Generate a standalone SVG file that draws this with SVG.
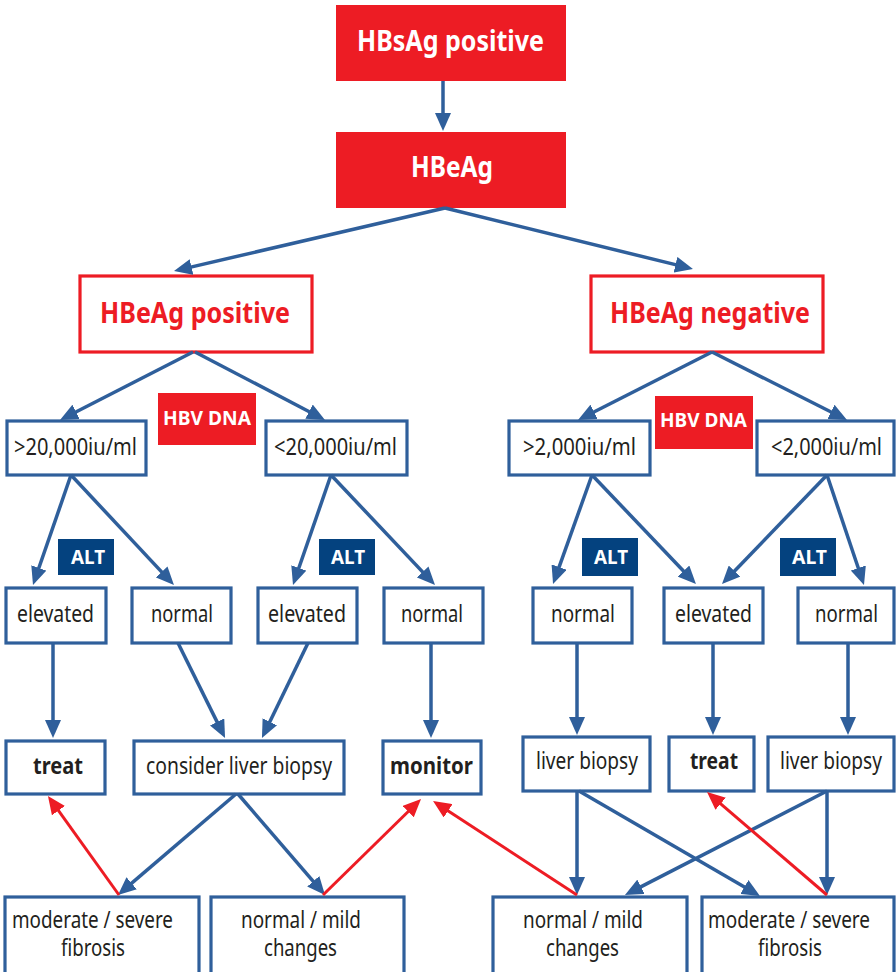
<svg xmlns="http://www.w3.org/2000/svg" width="896" height="972" viewBox="0 0 896 972">
<style>
.box{fill:#fff;stroke:#2F5F9B;stroke-width:3.2}
.rbox{fill:#fff;stroke:#ED1C24;stroke-width:3.2}
.red{fill:#ED1C24}
.alt{fill:#04427F}
.t{font-family:"Noto Sans","Open Sans","DejaVu Sans",sans-serif;font-size:23px;fill:#231F20}
.tb{font-family:"Noto Sans","Open Sans","DejaVu Sans",sans-serif;font-size:24px;font-weight:bold;fill:#231F20}
.hw{font-family:"Noto Sans","Open Sans","DejaVu Sans",sans-serif;font-size:28px;font-weight:bold;fill:#fff}
.hr{font-family:"Noto Sans","Open Sans","DejaVu Sans",sans-serif;font-size:28px;font-weight:bold;fill:#ED1C24}
.lw{font-family:"Noto Sans","Open Sans","DejaVu Sans",sans-serif;font-size:20px;font-weight:bold;fill:#fff}
.cb{stroke:#2F5F9B;stroke-width:3.5;fill:none;marker-end:url(#ab)}
.cr{stroke:#ED1C24;stroke-width:3;fill:none;marker-end:url(#ar)}
</style>
<defs>
<marker id="ab" viewBox="0 0 18 16" refX="3" refY="8" markerWidth="18" markerHeight="16" markerUnits="userSpaceOnUse" orient="auto"><path d="M0,0 L18,8 L0,16 z" fill="#2F5F9B"/></marker>
<marker id="ar" viewBox="0 0 18 16" refX="3" refY="8" markerWidth="18" markerHeight="16" markerUnits="userSpaceOnUse" orient="auto"><path d="M0,0 L18,8 L0,16 z" fill="#ED1C24"/></marker>
</defs>

<g id="hbsag"><rect class="red" x="336" y="5" width="230" height="76"/><text class="hw" x="357" y="51" textLength="187" lengthAdjust="spacingAndGlyphs">HBsAg positive</text></g>
<g id="hbeag"><rect class="red" x="336" y="132" width="230" height="76"/><text class="hw" x="411" y="177" textLength="82" lengthAdjust="spacingAndGlyphs">HBeAg</text></g>
<g id="hbeag-pos"><rect class="rbox" x="80" y="276" width="232" height="76"/><text class="hr" x="100" y="323" textLength="190" lengthAdjust="spacingAndGlyphs">HBeAg positive</text></g>
<g id="hbeag-neg"><rect class="rbox" x="591" y="276" width="232" height="76"/><text class="hr" x="610" y="323" textLength="200" lengthAdjust="spacingAndGlyphs">HBeAg negative</text></g>

<g id="dna1"><rect class="red" x="158" y="393" width="98" height="52"/><text class="lw" x="163" y="425" textLength="88" lengthAdjust="spacingAndGlyphs">HBV DNA</text></g>
<g id="dna2"><rect class="red" x="655" y="396" width="98" height="53"/><text class="lw" x="660" y="427" textLength="87" lengthAdjust="spacingAndGlyphs">HBV DNA</text></g>

<g id="gt20k"><rect class="box" x="7" y="421" width="139" height="54"/><text class="t" transform="translate(14,455) scale(0.86,1)" textLength="143" lengthAdjust="spacingAndGlyphs">&gt;20,000iu/ml</text></g>
<g id="lt20k"><rect class="box" x="266" y="421" width="141" height="54"/><text class="t" transform="translate(274,455) scale(0.86,1)" textLength="143" lengthAdjust="spacingAndGlyphs">&lt;20,000iu/ml</text></g>
<g id="gt2k"><rect class="box" x="509" y="421" width="141" height="54"/><text class="t" transform="translate(523,455) scale(0.86,1)" textLength="131.4" lengthAdjust="spacingAndGlyphs">&gt;2,000iu/ml</text></g>
<g id="lt2k"><rect class="box" x="757" y="421" width="137" height="54"/><text class="t" transform="translate(771,455) scale(0.86,1)" textLength="129" lengthAdjust="spacingAndGlyphs">&lt;2,000iu/ml</text></g>

<g id="alt1"><rect class="alt" x="58" y="539" width="56" height="36"/><text class="lw" x="71" y="564" textLength="34" lengthAdjust="spacingAndGlyphs">ALT</text></g>
<g id="alt2"><rect class="alt" x="319" y="539" width="56" height="36"/><text class="lw" x="331" y="564" textLength="34" lengthAdjust="spacingAndGlyphs">ALT</text></g>
<g id="alt3"><rect class="alt" x="582" y="538" width="56" height="38"/><text class="lw" x="594" y="564" textLength="34" lengthAdjust="spacingAndGlyphs">ALT</text></g>
<g id="alt4"><rect class="alt" x="780" y="538" width="56" height="38"/><text class="lw" x="792" y="564" textLength="35" lengthAdjust="spacingAndGlyphs">ALT</text></g>

<g id="elev1"><rect class="box" x="6" y="588" width="100" height="55"/><text class="t" transform="translate(17,622) scale(0.86,1)" textLength="89.5" lengthAdjust="spacingAndGlyphs">elevated</text></g>
<g id="norm1"><rect class="box" x="132" y="588" width="99" height="55"/><text class="t" transform="translate(151,622) scale(0.86,1)" textLength="72.1" lengthAdjust="spacingAndGlyphs">normal</text></g>
<g id="elev2"><rect class="box" x="258" y="588" width="99" height="55"/><text class="t" transform="translate(268,622) scale(0.86,1)" textLength="90.7" lengthAdjust="spacingAndGlyphs">elevated</text></g>
<g id="norm2"><rect class="box" x="384" y="588" width="99" height="55"/><text class="t" transform="translate(401,622) scale(0.86,1)" textLength="72.1" lengthAdjust="spacingAndGlyphs">normal</text></g>
<g id="norm3"><rect class="box" x="533" y="588" width="99" height="55"/><text class="t" transform="translate(551,622) scale(0.86,1)" textLength="74.4" lengthAdjust="spacingAndGlyphs">normal</text></g>
<g id="elev3"><rect class="box" x="664" y="588" width="99" height="55"/><text class="t" transform="translate(675,622) scale(0.86,1)" textLength="89.5" lengthAdjust="spacingAndGlyphs">elevated</text></g>
<g id="norm4"><rect class="box" x="798" y="588" width="96" height="55"/><text class="t" transform="translate(815,622) scale(0.86,1)" textLength="73.3" lengthAdjust="spacingAndGlyphs">normal</text></g>

<g id="treat1"><rect class="box" x="6" y="741" width="99" height="53"/><text class="tb" transform="translate(33,774) scale(0.85,1)" textLength="58.8" lengthAdjust="spacingAndGlyphs">treat</text></g>
<g id="consider"><rect class="box" x="134" y="741" width="210" height="53"/><text class="t" transform="translate(146,774) scale(0.86,1)" textLength="216.3" lengthAdjust="spacingAndGlyphs">consider liver biopsy</text></g>
<g id="monitor"><rect class="box" x="383" y="741" width="98" height="53"/><text class="tb" transform="translate(390,774) scale(0.85,1)" textLength="97.6" lengthAdjust="spacingAndGlyphs">monitor</text></g>
<g id="biopsy1"><rect class="box" x="523" y="737" width="127" height="54"/><text class="t" transform="translate(536,769) scale(0.86,1)" textLength="118.6" lengthAdjust="spacingAndGlyphs">liver biopsy</text></g>
<g id="treat2"><rect class="box" x="669" y="737" width="85" height="54"/><text class="tb" transform="translate(690,769) scale(0.85,1)" textLength="56.5" lengthAdjust="spacingAndGlyphs">treat</text></g>
<g id="biopsy2"><rect class="box" x="768" y="737" width="126" height="54"/><text class="t" transform="translate(780,769) scale(0.86,1)" textLength="118.6" lengthAdjust="spacingAndGlyphs">liver biopsy</text></g>

<g id="fib1"><rect class="box" x="5" y="897" width="194" height="85"/><text class="t" transform="translate(12,928) scale(0.86,1)" textLength="187.2" lengthAdjust="spacingAndGlyphs">moderate / severe</text><text class="t" transform="translate(61,956) scale(0.86,1)" textLength="74.4" lengthAdjust="spacingAndGlyphs">fibrosis</text></g>
<g id="mild1"><rect class="box" x="211" y="897" width="193" height="85"/><text class="t" transform="translate(241,928) scale(0.86,1)" textLength="139.5" lengthAdjust="spacingAndGlyphs">normal / mild</text><text class="t" transform="translate(264,956) scale(0.86,1)" textLength="84.9" lengthAdjust="spacingAndGlyphs">changes</text></g>
<g id="mild2"><rect class="box" x="493" y="897" width="194" height="85"/><text class="t" transform="translate(523,928) scale(0.86,1)" textLength="139.5" lengthAdjust="spacingAndGlyphs">normal / mild</text><text class="t" transform="translate(546,956) scale(0.86,1)" textLength="84.9" lengthAdjust="spacingAndGlyphs">changes</text></g>
<g id="fib2"><rect class="box" x="702" y="897" width="192" height="85"/><text class="t" transform="translate(708,928) scale(0.86,1)" textLength="188.4" lengthAdjust="spacingAndGlyphs">moderate / severe</text><text class="t" transform="translate(758,956) scale(0.86,1)" textLength="74.4" lengthAdjust="spacingAndGlyphs">fibrosis</text></g>

<g id="connectors">
<path class="cb" d="M443,81 L443,116"/>
<path class="cb" d="M445,208 L188.6,267.6"/>
<path class="cb" d="M445,208 L678.4,265.4"/>
<path class="cb" d="M193,352 L73.4,413.2"/>
<path class="cb" d="M195,352 L311.7,413"/>
<path class="cb" d="M712,352 L591.4,413.2"/>
<path class="cb" d="M712,352 L833.6,413.2"/>
<path class="cb" d="M71,475 L37.9,570.8"/>
<path class="cb" d="M71,475 L163.7,574.1"/>
<path class="cb" d="M331,475 L297.9,570.8"/>
<path class="cb" d="M331,475 L424.7,574.1"/>
<path class="cb" d="M592,475 L558.1,569.9"/>
<path class="cb" d="M592,475 L685.6,573.2"/>
<path class="cb" d="M827,475 L732.4,573.2"/>
<path class="cb" d="M827,475 L859.2,570.8"/>
<path class="cb" d="M53,643 L53,723"/>
<path class="cb" d="M178,643 L218.4,724.6"/>
<path class="cb" d="M308,643 L268.5,724.5"/>
<path class="cb" d="M431,643 L431,723"/>
<path class="cb" d="M577,643 L577,720"/>
<path class="cb" d="M713,643 L713,720"/>
<path class="cb" d="M848,643 L848,720"/>
<path class="cb" d="M236,794 L129.4,885.2"/>
<path class="cb" d="M238,794 L315.2,883.6"/>
<path class="cb" d="M577,791 L577,880"/>
<path class="cb" d="M579,791 L747,888.5"/>
<path class="cb" d="M827,791 L638.3,888.1"/>
<path class="cb" d="M827,791 L827,880"/>
<path class="cr" d="M119,895 L56.7,808.2"/>
<path class="cr" d="M323,895 L410.3,809.5"/>
<path class="cr" d="M577,895 L445.6,809.2"/>
<path class="cr" d="M827,895 L718.4,801.8"/>
</g>
</svg>
